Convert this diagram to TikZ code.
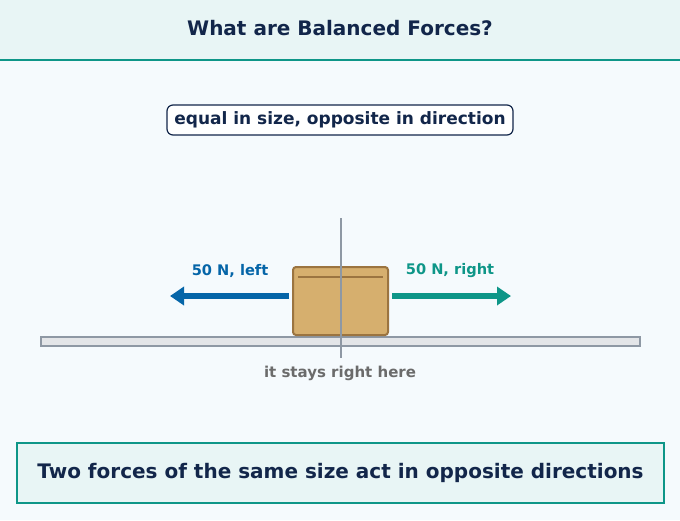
\documentclass[tikz,border=0pt]{standalone}
\usepackage{fontspec}
\setmainfont{DejaVu Sans}
\usetikzlibrary{arrows.meta,positioning}
\definecolor{inkblue}{HTML}{12264A}
\definecolor{teal}{HTML}{0E9688}
\definecolor{forceblue}{HTML}{0565A8}
\definecolor{bgsky}{HTML}{F5FAFD}
\definecolor{bandsky}{HTML}{E8F5F5}
\definecolor{railgray}{HTML}{8E98A4}
\definecolor{boxtan}{HTML}{D6AF6E}
\definecolor{boxedge}{HTML}{9B7440}
\tikzset{
  label/.style={font=\bfseries\fontsize{14.6}{17}\selectfont, inner sep=0pt},
  force/.style={line width=6pt, -{Triangle[length=14pt,width=18pt]}},
}
\begin{document}
\begin{tikzpicture}[x=1pt,y=-1pt]
  \useasboundingbox (0,0) rectangle (680,520);
  % background and header
  \fill [bgsky] (0,0) rectangle (680,520);
  \fill [bandsky] (0,0) rectangle (680,60);
  \draw [teal, line width=2pt] (0,60) -- (680,60);
  \node [font=\bfseries\fontsize{20}{24}\selectfont, text=inkblue] (title) at (340,28) {What are Balanced Forces?};
  \node [draw=inkblue, line width=1.2pt, fill=white, rounded corners=6pt, minimum width=346pt, minimum height=30pt,
         font=\bfseries\fontsize{17}{20}\selectfont, text=inkblue] (rule) at (340,120) {equal in size, opposite in direction};
  % ground
  \draw [railgray, line width=1.5pt, fill=railgray!25] (41,337) rectangle (640,346);
  % box
  \draw [boxedge, fill=boxtan, line width=2pt, rounded corners=3pt] (293,267) rectangle (388,335);
  \draw [boxedge, line width=1.2pt] (298,277) -- (383,277);
  \coordinate (boxw) at (289,296);
  \coordinate (boxe) at (392,296);
  \coordinate (leftend) at (170,296);
  \coordinate (rightend) at (511,296);
  \draw [railgray, line width=1.2pt] (341,218) -- (341,358);
  % forces
  \draw [force, forceblue] (boxw) -- (leftend);
  \draw [force, teal] (boxe) -- (rightend);
  \node [label, text=forceblue] (leftlbl) at (230,271) {50 N, left};
  \node [label, text=teal] (rightlbl) at (450,271) {50 N, right};
  \node [label, text=black!58, font=\bfseries\fontsize{15}{18}\selectfont] (stay) at (340,373) {it stays right here};
  % summary
  \node [draw=teal, fill=bandsky, line width=1.2pt, minimum width=647pt, minimum height=60pt,
         font=\bfseries\fontsize{20}{24}\selectfont, text=inkblue] (summary) at (340.5,473) {Two forces of the same size act in opposite directions};
\end{tikzpicture}
\end{document}
